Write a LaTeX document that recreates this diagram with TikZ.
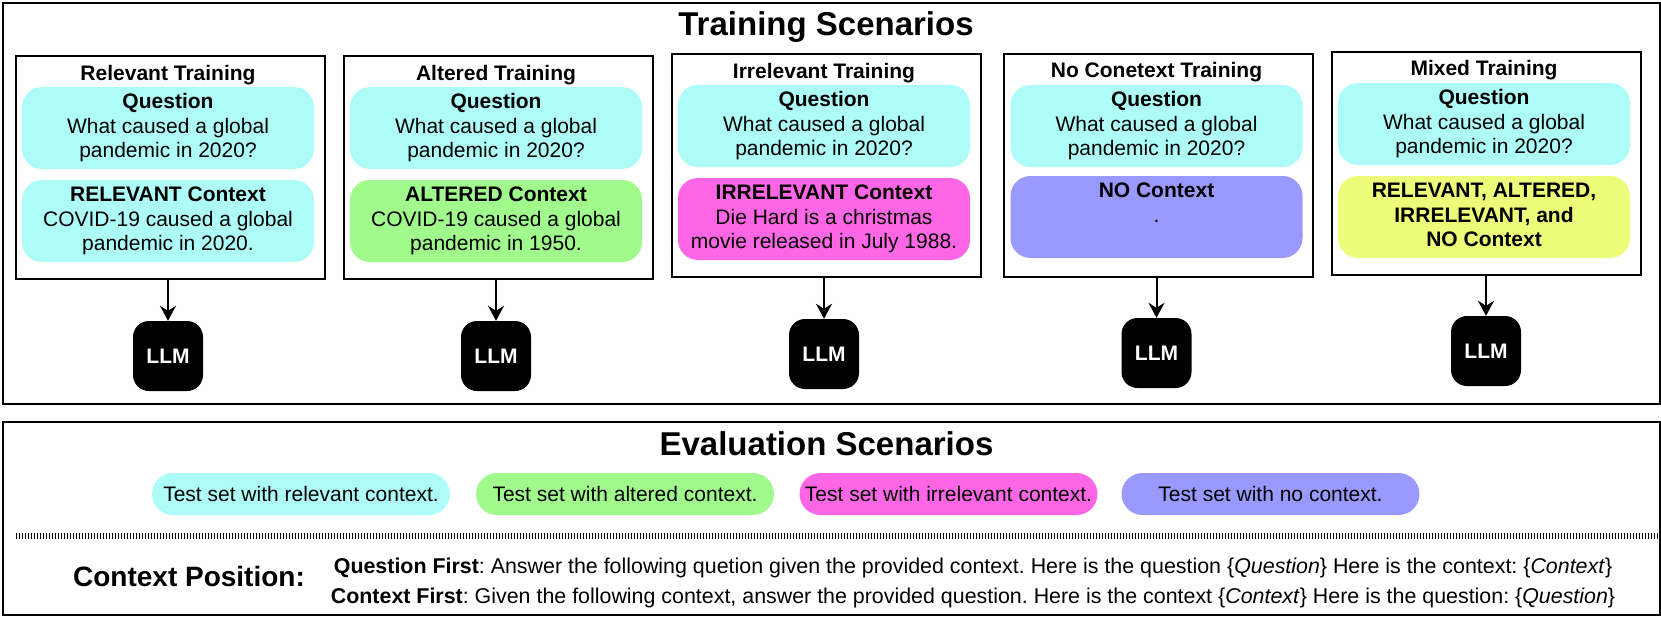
\documentclass[tikz,border=0pt]{standalone}
\usepackage{fontspec}
\setmainfont{Liberation Sans}
\usetikzlibrary{arrows.meta}
\definecolor{qcyan}{HTML}{ADFCF7}
\definecolor{agreen}{HTML}{A0FA8C}
\definecolor{imag}{HTML}{FF66E6}
\definecolor{nlav}{HTML}{9999FF}
\definecolor{myel}{HTML}{EDFD7A}
\newcommand\fsz[2]{\fontsize{#1}{#2}\selectfont}
\frenchspacing
\begin{document}
\begin{tikzpicture}[x=1pt,y=-1pt,
  frame/.style={draw, line width=2.5pt},
  panel/.style={draw, line width=2pt, minimum width=309pt, minimum height=223pt, anchor=north, inner sep=0pt},
  ptitle/.style={anchor=base, font=\bfseries\fsz{21}{24.5}, inner sep=0pt},
  pill/.style={rounded corners=20pt, minimum width=292pt, minimum height=82pt, align=center, font=\fsz{21}{24.5}, inner sep=0pt},
  llm/.style={fill=black, rounded corners=16pt, minimum width=70pt, minimum height=70pt, text=white, font=\bfseries\fsz{21}{24}, inner sep=0pt},
  evpill/.style={rounded corners=21pt, minimum width=298pt, minimum height=42pt, font=\fsz{21}{24}, inner sep=0pt},
  arr/.style={-{Stealth[length=15pt,width=16pt,inset=5pt]}, line width=2pt},
  bigtitle/.style={anchor=base, font=\bfseries\fsz{33}{38}, inner sep=0pt},
  prompt/.style={anchor=base, font=\fsz{21.4}{26}, inner sep=0pt}
]
\useasboundingbox (0,0) rectangle (1661,616);
% outer frames
\node[frame, minimum width=1657pt, minimum height=401pt, anchor=north west, inner sep=0pt] (top) at (1.5,1.5) {};
\node[frame, minimum width=1657pt, minimum height=193pt, anchor=north west, inner sep=0pt] (eval) at (1.5,420.5) {};

\node[bigtitle] (ttl) at (826,35) {Training Scenarios};

% panel 1
\node[panel] (b1) at (170.5,55) {};
\node[ptitle] (t1) at (168,80) {Relevant Training};
\node[pill, fill=qcyan] (q1) at (168,128) {\textbf{Question}\\What caused a global\\pandemic in 2020?};
\node[pill, fill=qcyan] (c1) at (168,221) {\textbf{RELEVANT Context}\\COVID-19 caused a global\\pandemic in 2020.};
\node[llm] (l1) at (168,356) {LLM};
\draw[arr] (b1.south -| l1) -- (l1.north);

% panel 2
\node[panel] (b2) at (498,55) {};
\node[ptitle] (t2) at (496,80) {Altered Training};
\node[pill, fill=qcyan] (q2) at (496,128) {\textbf{Question}\\What caused a global\\pandemic in 2020?};
\node[pill, fill=agreen] (c2) at (496,221) {\textbf{ALTERED Context}\\COVID-19 caused a global\\pandemic in 1950.};
\node[llm] (l2) at (496,356) {LLM};
\draw[arr] (b2.south -| l2) -- (l2.north);

% panel 3
\node[panel] (b3) at (826,53) {};
\node[ptitle] (t3) at (824,78) {Irrelevant Training};
\node[pill, fill=qcyan] (q3) at (824,126) {\textbf{Question}\\What caused a global\\pandemic in 2020?};
\node[pill, fill=imag] (c3) at (824,219) {\textbf{IRRELEVANT Context}\\Die Hard is a christmas\\movie released in July 1988.};
\node[llm] (l3) at (824,354) {LLM};
\draw[arr] (b3.south -| l3) -- (l3.north);

% panel 4
\node[panel] (b4) at (1158.5,53) {};
\node[ptitle] (t4) at (1156.5,77) {No Conetext Training};
\node[pill, fill=qcyan] (q4) at (1156.5,126) {\textbf{Question}\\What caused a global\\pandemic in 2020?};
\node[pill, fill=nlav] (c4) at (1156.5,217) {\textbf{NO Context}\\.\\\vphantom{p}};
\node[llm] (l4) at (1156.5,353) {LLM};
\draw[arr] (b4.south -| l4) -- (l4.north);

% panel 5
\node[panel] (b5) at (1486,51) {};
\node[ptitle] (t5) at (1484,75) {Mixed Training};
\node[pill, fill=qcyan] (q5) at (1484,124) {\textbf{Question}\\What caused a global\\pandemic in 2020?};
\node[pill, fill=myel] (c5) at (1484,217) {\textbf{RELEVANT, ALTERED,}\\\textbf{IRRELEVANT, and}\\\textbf{NO Context}\vphantom{p}};
\node[llm] (l5) at (1486,351) {LLM};
\draw[arr] (b5.south -| l5) -- (l5.north);

% evaluation
\node[bigtitle] (etl) at (826.5,455) {Evaluation Scenarios};
\node[evpill, fill=qcyan] (e1) at (301,494) {Test set with relevant context.};
\node[evpill, fill=agreen] (e2) at (625,494) {Test set with altered context.};
\node[evpill, fill=imag] (e3) at (948.5,494) {Test set with irrelevant context.};
\node[evpill, fill=nlav] (e4) at (1270.5,494) {Test set with no context.};

\draw[line width=6pt, dash pattern=on 1.2pt off 1.8pt] (16,536) -- (1658,536);

\node[anchor=base, font=\bfseries\fsz{28}{32}, inner sep=0pt] (cp) at (189,586) {Context Position:};
\node[prompt] (qf) at (973,573) {\textbf{Question First}: Answer the following quetion given the provided context. Here is the question \{\textit{Question}\} Here is the context: \{\textit{Context}\}};
\node[prompt] (cf) at (973,603) {\textbf{Context First}: Given the following context, answer the provided question. Here is the context \{\textit{Context}\} Here is the question: \{\textit{Question}\}};
\end{tikzpicture}
\end{document}
